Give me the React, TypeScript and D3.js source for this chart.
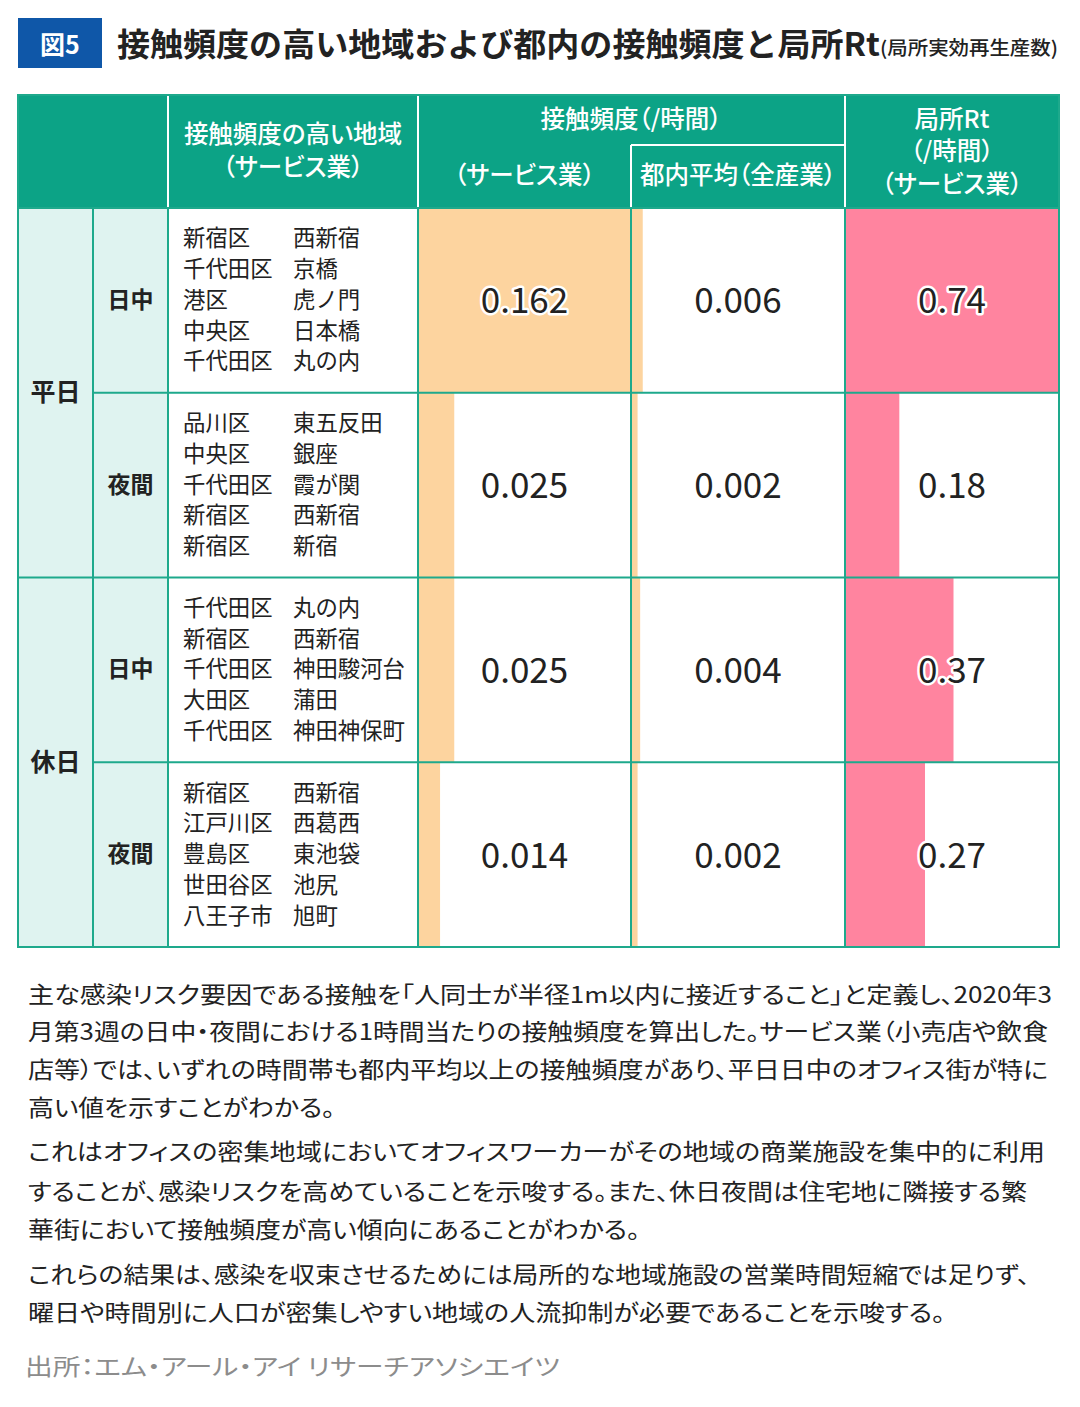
import React from "react";
import * as d3 from "d3";

// ---- data ----
const rowDay = ["平日", "平日", "休日", "休日"];
const dayGroups = ["平日", "休日"];
const timeSlots = ["日中", "夜間", "日中", "夜間"];
const wards = [
  ["新宿区", "千代田区", "港区", "中央区", "千代田区"],
  ["品川区", "中央区", "千代田区", "新宿区", "新宿区"],
  ["千代田区", "新宿区", "千代田区", "大田区", "千代田区"],
  ["新宿区", "江戸川区", "豊島区", "世田谷区", "八王子市"],
];
const areas = [
  ["西新宿", "京橋", "虎ノ門", "日本橋", "丸の内"],
  ["東五反田", "銀座", "霞が関", "西新宿", "新宿"],
  ["丸の内", "西新宿", "神田駿河台", "蒲田", "神田神保町"],
  ["西新宿", "西葛西", "東池袋", "池尻", "旭町"],
];
const serviceFreq = [0.162, 0.025, 0.025, 0.014];
const cityAvgFreq = [0.006, 0.002, 0.004, 0.002];
const localRt = [0.74, 0.18, 0.37, 0.27];

const titleText = "接触頻度の高い地域および都内の接触頻度と局所Rt";
const subtitleText = "(局所実効再生産数)";
const bodyParas = [
  [
    "主な感染リスク要因である接触を「人同士が半径1m以内に接近すること」と定義し、2020年3",
    "月第3週の日中・夜間における1時間当たりの接触頻度を算出した。サービス業（小売店や飲食",
    "店等）では、いずれの時間帯も都内平均以上の接触頻度があり、平日日中のオフィス街が特に",
    "高い値を示すことがわかる。",
  ],
  [
    "これはオフィスの密集地域においてオフィスワーカーがその地域の商業施設を集中的に利用",
    "することが、感染リスクを高めていることを示唆する。また、休日夜間は住宅地に隣接する繁",
    "華街において接触頻度が高い傾向にあることがわかる。",
  ],
  [
    "これらの結果は、感染を収束させるためには局所的な地域施設の営業時間短縮では足りず、",
    "曜日や時間別に人口が密集しやすい地域の人流抑制が必要であることを示唆する。",
  ],
];
const sourceText = "出所：エム・アール・アイ リサーチアソシエイツ";

// ---- layout ----
const W = 1080;
const H = 1407;
const FONT = "'Noto Sans CJK JP', 'Noto Sans', sans-serif";
const TEAL = "#0ca386";
const LINE = "#1ea98c";
const LIGHT = "#dff3f0";
const ORANGE = "#fdd49f";
const PINK = "#ff849f";
const TEXT = "#222";
const DY = -2.5;

const colX = [18, 93, 168, 418, 631, 845, 1059];
const headTop = 95;
const headBottom = 208;
const tableBottom = 947;

const bodyLines = [
  { y: 995, w: 1024 }, { y: 1032, w: 1020 }, { y: 1070, w: 1020 }, { y: 1108, w: 307 },
  { y: 1152, w: 1017 }, { y: 1192, w: 999 }, { y: 1230, w: 612 },
  { y: 1275, w: 1002 }, { y: 1313, w: 917 },
];

export default function App() {
  const rowScale = d3
    .scaleBand<number>()
    .domain(d3.range(rowDay.length))
    .range([headBottom, tableBottom]);
  const freqScale = d3.scaleLinear().domain([0, 0.162]).range([4, colX[4] - colX[3]]);
  const rtScale = d3.scaleLinear().domain([0, 0.74]).range([3, colX[6] - colX[5]]);
  const fmt3 = d3.format(".3f");
  const fmt2 = d3.format(".2f");
  const rh = rowScale.bandwidth();

  const valueStyle: React.CSSProperties = {
    fontFamily: FONT,
    fontSize: 35,
    fontWeight: 400,
    fill: TEXT,
    stroke: "#fff",
    strokeWidth: 5,
    paintOrder: "stroke",
    strokeLinejoin: "round",
  };
  const headStyle: React.CSSProperties = {
    fontFamily: FONT,
    fontSize: 24.5,
    fontWeight: 500,
    fill: "#fff",
    fontFeatureSettings: "'palt'",
  };
  const cellText: React.CSSProperties = { fontFamily: FONT, fontSize: 22.4 };

  const lines: string[] = bodyParas.flat();

  return (
    <svg width={W} height={H} style={{ position: "absolute", left: 0, top: 0, background: "#fff" }}>
      <rect x={0} y={0} width={W} height={H} fill="#fff" />
      {/* title */}
      <rect x={18} y={18} width={84} height={50} fill="#0f57a8" />
      <text x={60} y={43} textAnchor="middle" dominantBaseline="central" fill="#fff"
        style={{ fontFamily: FONT, fontSize: 25, fontWeight: 700 }}>図5</text>
      <text x={117} y={42} dominantBaseline="central" fill={TEXT} textLength={763} lengthAdjust="spacingAndGlyphs"
        style={{ fontFamily: FONT, fontSize: 32, fontWeight: 700 }}>{titleText}</text>
      <text x={880} y={46} dominantBaseline="central" fill={TEXT} textLength={178} lengthAdjust="spacingAndGlyphs"
        style={{ fontFamily: FONT, fontSize: 19, fontWeight: 500 }}>{subtitleText}</text>

      {/* header */}
      <rect x={colX[0]} y={headTop} width={colX[6] - colX[0]} height={headBottom - headTop} fill={TEAL} />
      <text x={(colX[2] + colX[3]) / 2} y={135 + DY} textAnchor="middle" dominantBaseline="central" style={headStyle}>接触頻度の高い地域</text>
      <text x={(colX[2] + colX[3]) / 2} y={168 + DY} textAnchor="middle" dominantBaseline="central" style={headStyle}>（サービス業）</text>
      <text x={colX[4]} y={120 + DY} textAnchor="middle" dominantBaseline="central" style={headStyle}>接触頻度（/時間）</text>
      <text x={(colX[3] + colX[4]) / 2} y={176 + DY} textAnchor="middle" dominantBaseline="central" style={headStyle}>（サービス業）</text>
      <text x={(colX[4] + colX[5]) / 2} y={176 + DY} textAnchor="middle" dominantBaseline="central" style={headStyle}>都内平均（全産業）</text>
      <text x={(colX[5] + colX[6]) / 2} y={120 + DY} textAnchor="middle" dominantBaseline="central" style={headStyle}>局所Rt</text>
      <text x={(colX[5] + colX[6]) / 2} y={152 + DY} textAnchor="middle" dominantBaseline="central" style={headStyle}>（/時間）</text>
      <text x={(colX[5] + colX[6]) / 2} y={185 + DY} textAnchor="middle" dominantBaseline="central" style={headStyle}>（サービス業）</text>
      {/* header white separators */}
      <g stroke="#fff" strokeWidth={2}>
        <line x1={colX[2]} x2={colX[2]} y1={headTop} y2={headBottom} />
        <line x1={colX[3]} x2={colX[3]} y1={headTop} y2={headBottom} />
        <line x1={colX[5]} x2={colX[5]} y1={headTop} y2={headBottom} />
        <line x1={colX[4]} x2={colX[5]} y1={145} y2={145} />
        <line x1={colX[4]} x2={colX[4]} y1={145} y2={headBottom} />
      </g>

      {/* left label columns */}
      <rect x={colX[0]} y={headBottom} width={colX[2] - colX[0]} height={tableBottom - headBottom} fill={LIGHT} />
      {dayGroups.map((g) => {
        const idx = rowDay.map((d, i) => (d === g ? i : -1)).filter((i) => i >= 0);
        const y0 = rowScale(idx[0])!;
        const y1 = rowScale(idx[idx.length - 1])! + rh;
        return (
          <text key={g} x={(colX[0] + colX[1]) / 2} y={(y0 + y1) / 2 + DY} textAnchor="middle" dominantBaseline="central"
            fill={TEXT} style={{ fontFamily: FONT, fontSize: 25, fontWeight: 700 }}>{g}</text>
        );
      })}

      {rowDay.map((_, i) => {
        const y = rowScale(i)!;
        const cy = y + rh / 2 + DY;
        return (
          <g key={i}>
            <text x={(colX[1] + colX[2]) / 2} y={cy} textAnchor="middle" dominantBaseline="central" fill={TEXT}
              style={{ fontFamily: FONT, fontSize: 23, fontWeight: 700 }}>{timeSlots[i]}</text>
            {wards[i].map((wd, j) => (
              <g key={j}>
                <text x={183} y={cy + (j - 2) * 30.7} dominantBaseline="central" fill={TEXT} style={cellText}>{wd}</text>
                <text x={293} y={cy + (j - 2) * 30.7} dominantBaseline="central" fill={TEXT} style={cellText}>{areas[i][j]}</text>
              </g>
            ))}
            {/* bars */}
            <rect x={colX[3]} y={y} width={freqScale(serviceFreq[i])} height={rh} fill={ORANGE} />
            <rect x={colX[4]} y={y} width={freqScale(cityAvgFreq[i])} height={rh} fill={ORANGE} />
            <rect x={colX[5]} y={y} width={rtScale(localRt[i])} height={rh} fill={PINK} />
            {/* values */}
            <text x={(colX[3] + colX[4]) / 2} y={cy} textAnchor="middle" dominantBaseline="central" style={valueStyle}>{fmt3(serviceFreq[i])}</text>
            <text x={(colX[4] + colX[5]) / 2} y={cy} textAnchor="middle" dominantBaseline="central" style={valueStyle}>{fmt3(cityAvgFreq[i])}</text>
            <text x={(colX[5] + colX[6]) / 2} y={cy} textAnchor="middle" dominantBaseline="central" style={valueStyle}>{fmt2(localRt[i])}</text>
          </g>
        );
      })}

      {/* grid lines */}
      <g stroke={LINE} strokeWidth={2} fill="none">
        {rowDay.map((_, i) => {
          const y = rowScale(i)! + rh;
          if (i === rowDay.length - 1) return null;
          const sameGroup = rowDay[i] === rowDay[i + 1];
          return <line key={i} x1={sameGroup ? colX[1] : colX[0]} x2={colX[6]} y1={y} y2={y} />;
        })}
        {[colX[1], colX[2], colX[3], colX[4], colX[5]].map((x, k) => (
          <line key={k} x1={x} x2={x} y1={headBottom} y2={tableBottom} />
        ))}
        <line x1={colX[0]} x2={colX[6]} y1={headBottom} y2={headBottom} />
        <rect x={colX[0]} y={headTop} width={colX[6] - colX[0]} height={tableBottom - headTop} />
      </g>

      {/* body text */}
      {lines.map((t, i) => (
        <text key={i} x={28} y={bodyLines[i].y + DY} dominantBaseline="central" fill={TEXT}
          textLength={bodyLines[i].w} lengthAdjust="spacingAndGlyphs"
          style={{ fontFamily: FONT, fontSize: 22.5, fontFeatureSettings: "'palt'" }}>{t}</text>
      ))}
      <text x={25} y={1367 + DY} dominantBaseline="central" fill="#8c8c8c" textLength={535} lengthAdjust="spacingAndGlyphs"
        style={{ fontFamily: FONT, fontSize: 23, fontWeight: 400, fontFeatureSettings: "'palt'" }}>{sourceText}</text>
    </svg>
  );
}
